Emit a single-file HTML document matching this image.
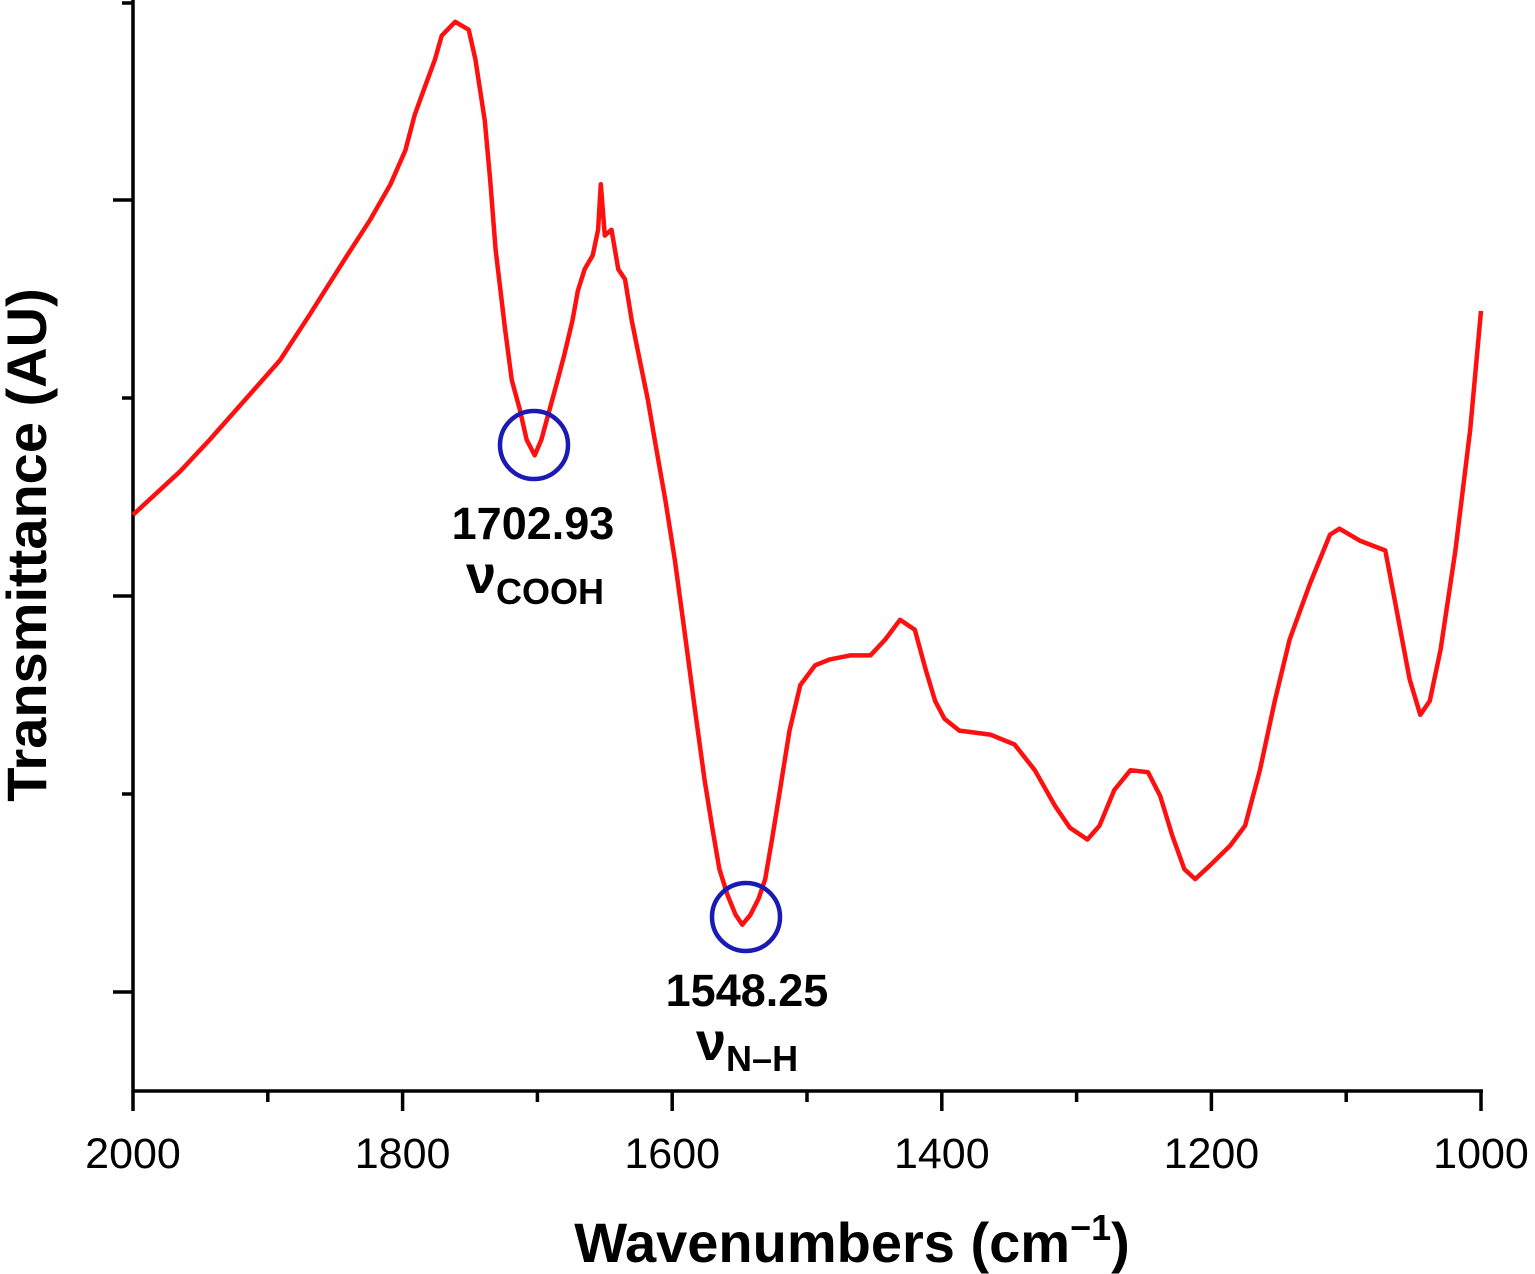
<!DOCTYPE html>
<html><head><meta charset="utf-8">
<style>
html,body{margin:0;padding:0;background:#fff;}
svg{display:block;font-family:"Liberation Sans",Arial,sans-serif;}
</style></head>
<body>
<svg id="chart" width="1535" height="1274" viewBox="0 0 1535 1274" xmlns="http://www.w3.org/2000/svg">
<g id="axes"></g>
<path id="spectrum" fill="none" stroke="#ff1010" stroke-width="4.5" stroke-linejoin="round"></path>
<circle cx="534" cy="445" r="34" fill="none" stroke="#1a1ab4" stroke-width="4.5"/>
<circle cx="746" cy="917" r="34" fill="none" stroke="#1a1ab4" stroke-width="4.5"/>
<text x="533" y="539" font-size="45" font-weight="bold" text-anchor="middle">1702.93</text>
<text x="466" y="593" font-size="54" font-weight="bold">ν<tspan font-size="36" dy="11">COOH</tspan></text>
<text x="747" y="1006" font-size="45" font-weight="bold" text-anchor="middle">1548.25</text>
<text x="696" y="1060" font-size="54" font-weight="bold">ν<tspan font-size="36" dy="11">N–H</tspan></text>
<text x="852" y="1262" font-size="56" font-weight="bold" text-anchor="middle">Wavenumbers (cm<tspan font-size="36" dy="-22">−1</tspan><tspan dy="22">)</tspan></text>
<text transform="translate(46,545) rotate(-90)" font-size="56" font-weight="bold" text-anchor="middle">Transmittance (AU)</text>
</svg>
<script>
const wavenumbers = [2000,1965,1943,1917,1891,1869,1843,1824,1809,1798,1791,1783,1776,1771,1761,1751,1746,1739,1735,1731,1724,1719,1713,1708,1702,1697,1691,1685,1680,1674,1670,1665,1659,1655,1653,1650,1645,1640,1635,1630,1624,1618,1613,1605,1598,1591,1583,1576,1570,1565,1559,1553,1548,1542,1536,1531,1526,1520,1513,1505,1494,1483,1468,1453,1442,1431,1420,1412,1405,1398,1387,1364,1346,1331,1316,1305,1292,1283,1272,1260,1247,1238,1229,1220,1212,1201,1186,1175,1164,1153,1142,1127,1112,1105,1090,1071,1064,1053,1045,1038,1030,1019,1008,1000];
const transmittance = [2.41,2.63,2.79,2.99,3.19,3.42,3.70,3.90,4.08,4.25,4.43,4.58,4.71,4.83,4.90,4.86,4.71,4.40,4.10,3.75,3.35,3.09,2.94,2.79,2.71,2.79,2.94,3.09,3.22,3.39,3.54,3.65,3.72,3.85,4.08,3.82,3.85,3.65,3.60,3.39,3.19,2.99,2.79,2.48,2.18,1.83,1.42,1.07,0.82,0.62,0.49,0.39,0.34,0.39,0.47,0.57,0.77,1.02,1.32,1.55,1.65,1.68,1.70,1.70,1.78,1.88,1.83,1.63,1.47,1.38,1.32,1.30,1.25,1.12,0.94,0.83,0.77,0.84,1.02,1.12,1.11,0.99,0.79,0.62,0.57,0.64,0.74,0.84,1.12,1.47,1.78,2.06,2.31,2.34,2.28,2.23,1.98,1.58,1.40,1.47,1.73,2.23,2.84,3.44];
const xTickLabels = [2000,1800,1600,1400,1200,1000];
const xMinorTicks = [1900,1700,1500,1300,1100];
const yMajorTicks = [0,2,4];
const yMinorTicks = [1,3,5];

const X0=133, X1=1481, Y0=992, PXU=198, AXY=1091;
const xs = w => X0 + (2000 - w) * (X1 - X0) / 1000;
const ys = v => Y0 - v * PXU;
const NS="http://www.w3.org/2000/svg";
const axes=document.getElementById('axes');
function line(x1,y1,x2,y2,name){
  const l=document.createElementNS(NS,'line');
  l.setAttribute('x1',x1);l.setAttribute('y1',y1);l.setAttribute('x2',x2);l.setAttribute('y2',y2);
  l.setAttribute('stroke','#000');l.setAttribute('stroke-width','3.5');
  
  
  axes.appendChild(l);
}
line(X0,0,X0,AXY+1,'y-axis-line');
line(X0-1,AXY,X1+2,AXY,'x-axis-line');
xTickLabels.forEach(w=>{
  line(xs(w),AXY,xs(w),AXY+20,'x-major-tick');
  const t=document.createElementNS(NS,'text');
  t.setAttribute('x',xs(w));t.setAttribute('y',1168);t.setAttribute('font-size','43');t.setAttribute('text-anchor','middle');
  t.textContent=w;
  
  
  axes.appendChild(t);
});
xMinorTicks.forEach(w=>line(xs(w),AXY,xs(w),AXY+11,'x-minor-tick'));
yMajorTicks.forEach(v=>line(X0-20,ys(v),X0,ys(v),'y-major-tick'));
yMinorTicks.forEach(v=>line(X0-11,Math.max(ys(v),3),X0,Math.max(ys(v),3),'y-minor-tick'));

let d='';
wavenumbers.forEach((w,i)=>{d+=(i?'L':'M')+xs(w).toFixed(1)+','+ys(transmittance[i]).toFixed(1);});
document.getElementById('spectrum').setAttribute('d',d);
</script>
</body></html>
